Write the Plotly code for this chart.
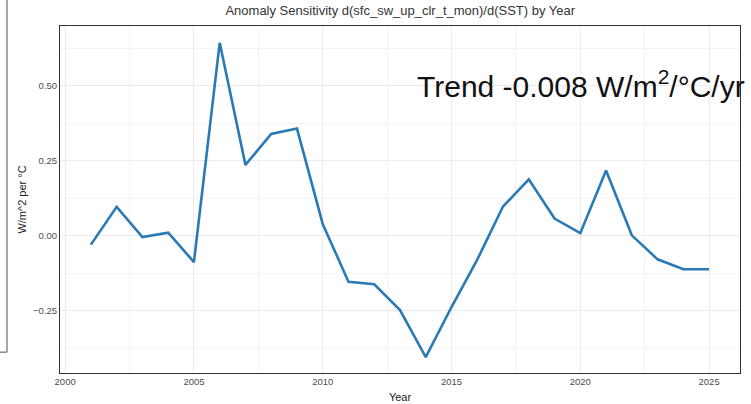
import plotly.graph_objects as go

years = list(range(2001, 2026))
sensitivity = [-0.030, 0.096, -0.005, 0.010, -0.088, 0.643, 0.236, 0.339, 0.357, 0.039,
               -0.154, -0.162, -0.248, -0.405, -0.238, -0.080, 0.097, 0.188, 0.057, 0.008,
               0.217, 0.001, -0.079, -0.112, -0.112]
trend_label = 'Trend -0.008 W/m<sup>2</sup>/°C/yr'
title = 'Anomaly Sensitivity d(sfc_sw_up_clr_t_mon)/d(SST) by Year'

fig = go.Figure()
fig.add_trace(go.Scatter(
    x=years,
    y=sensitivity,
    mode='lines',
    line=dict(color='#2a7ab6', width=2.6),
    showlegend=False,
))

grid = dict(
    showgrid=True, gridcolor='#ebebeb', gridwidth=1,
    showline=True, linecolor='#333333', linewidth=1, mirror=True,
    ticks='', zeroline=False, automargin=False,
    tickfont=dict(family='Liberation Sans, Arial', size=9.5, color='#4d4d4d'),
)
fig.update_xaxes(
    range=[1999.8, 2026.2], tickvals=[2000, 2005, 2010, 2015, 2020, 2025],
    minor=dict(tickvals=[2002.5, 2007.5, 2012.5, 2017.5, 2022.5], showgrid=True,
               gridcolor='#f4f4f4', gridwidth=0.6),
    title=dict(text='Year', standoff=6,
               font=dict(family='Liberation Sans, Arial', size=11, color='#222')),
    **grid,
)
fig.update_yaxes(
    range=[-0.458, 0.699], tickvals=[-0.25, 0, 0.25, 0.5], tickformat='.2f',
    minor=dict(tickvals=[-0.375, -0.125, 0.125, 0.375, 0.625], showgrid=True,
               gridcolor='#f4f4f4', gridwidth=0.6),
    title=dict(text='W/m^2 per °C', standoff=4,
               font=dict(family='Liberation Sans, Arial', size=11, color='#222')),
    **grid,
)

fig.add_annotation(
    text=trend_label, xref='paper', yref='paper', x=0.522, y=0.832,
    xanchor='left', yanchor='middle', showarrow=False,
    font=dict(family='Liberation Sans, Arial', size=30, color='#111'),
)

# edge of the neighbouring panel, cropped in at the left
fig.add_shape(type='line', xref='paper', yref='paper', x0=-0.078, x1=-0.078,
              y0=0.06, y1=1.2, line=dict(color='#888', width=1.5))
fig.add_shape(type='line', xref='paper', yref='paper', x0=-0.09, x1=-0.078,
              y0=0.06, y1=0.06, line=dict(color='#888', width=1.5))

fig.update_layout(
    width=751, height=404,
    margin=dict(l=60, r=11, t=26, b=31),
    plot_bgcolor='white', paper_bgcolor='white',
    title=dict(text=title, x=0.533, xanchor='center', y=0.975, yanchor='middle',
               font=dict(family='Liberation Sans, Arial', size=13, color='#333')),
)

fig.write_html('out.html', config={'displayModeBar': False},
               post_script="document.body.style.margin='0';")
